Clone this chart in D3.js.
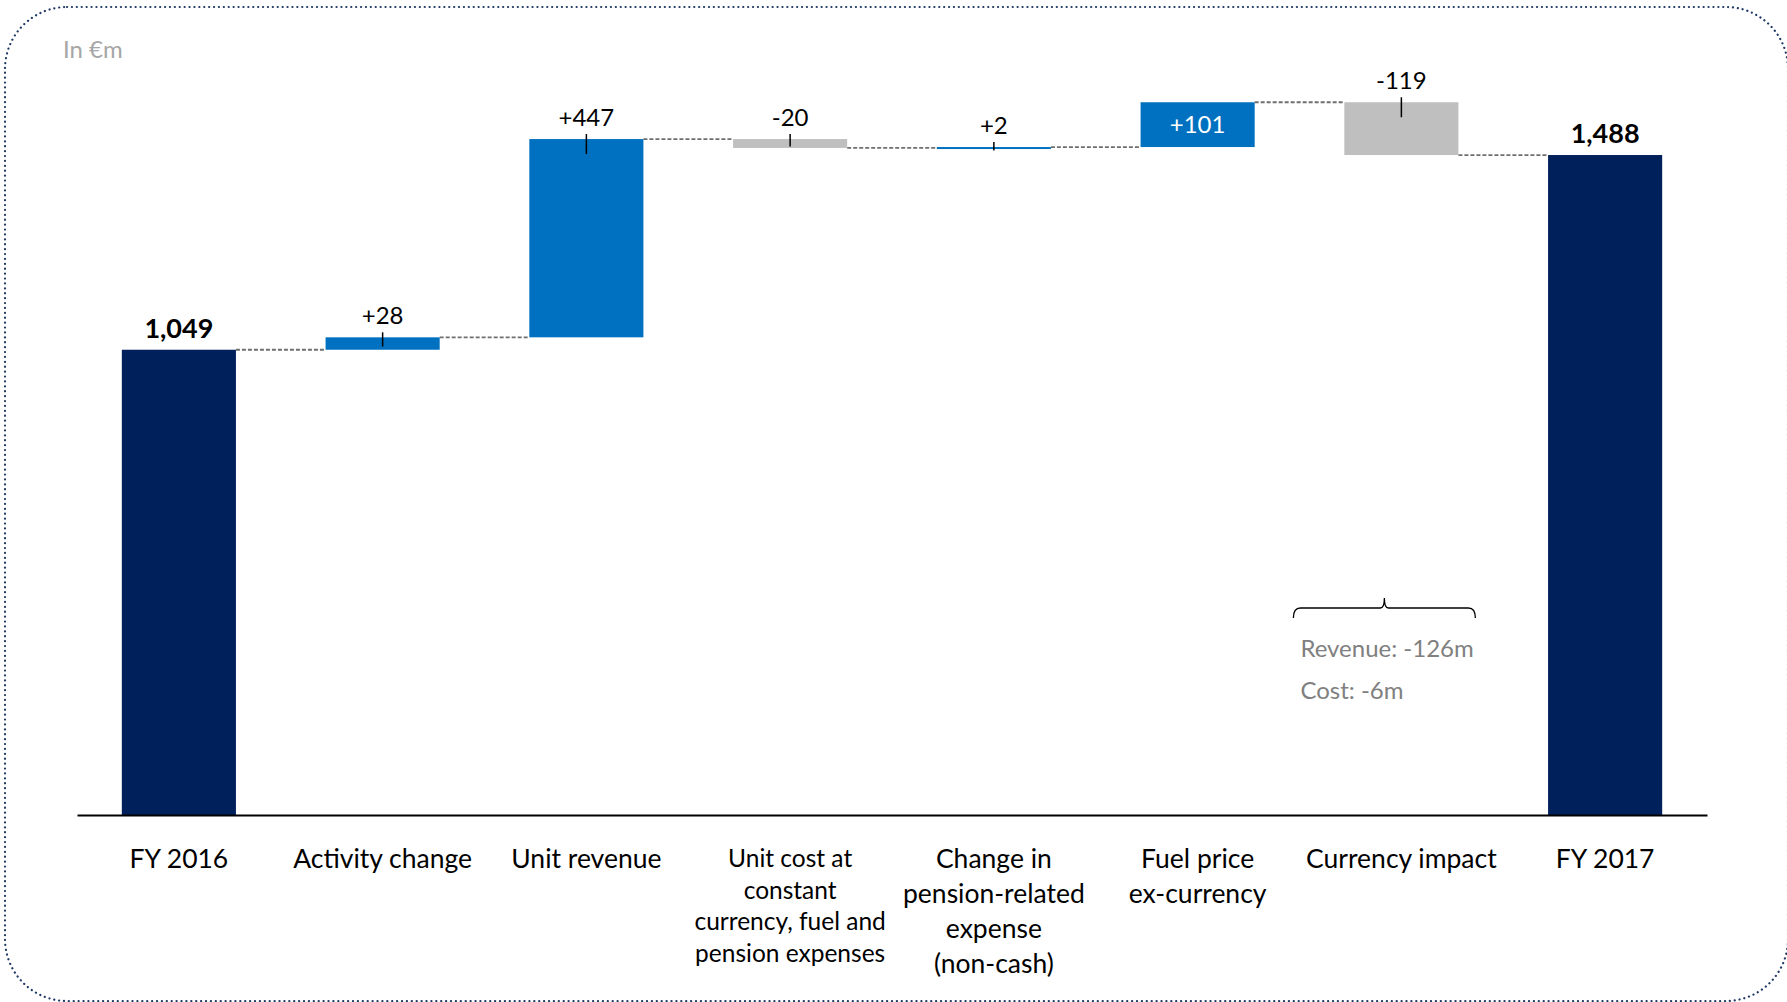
<!DOCTYPE html>
<html>
<head>
<meta charset="utf-8">
<script src="https://cdn.jsdelivr.net/npm/d3@7"></script>
<style>
  body { margin: 0; background: #fff; }
  svg text { font-family: "Lato", "Open Sans", sans-serif; }
</style>
</head>
<body>
<div id="chart"></div>
<script>
// data
var categories = ["FY 2016", "Activity change", "Unit revenue", "Unit cost", "Pension", "Fuel price", "Currency impact", "FY 2017"];
var catLines = [
  ["FY 2016"],
  ["Activity change"],
  ["Unit revenue"],
  ["Unit cost at", "constant", "currency, fuel and", "pension expenses"],
  ["Change in", "pension-related", "expense", "(non-cash)"],
  ["Fuel price", "ex-currency"],
  ["Currency impact"],
  ["FY 2017"]
];
var values = [1049, 28, 447, -20, 2, 101, -119, 1488];
var kinds = ["total", "delta", "delta", "delta", "delta", "delta", "delta", "total"];
var valueLabels = ["1,049", "+28", "+447", "-20", "+2", "+101", "-119", "1,488"];
var noteLines = ["Revenue: -126m", "Cost: -6m"];

var W = 1787, H = 1002;
var svg = d3.select("#chart").append("svg")
  .attr("width", W)
  .attr("height", H);

// dotted rounded frame
svg.append("rect")
  .attr("x", 5).attr("y", 7)
  .attr("width", 1783).attr("height", 994)
  .attr("rx", 62).attr("ry", 62)
  .attr("fill", "none")
  .attr("stroke", "#1F3864")
  .attr("stroke-width", 2.2)
  .attr("stroke-linecap", "round")
  .attr("stroke-dasharray", "0.1 4.8");

svg.append("text")
  .attr("x", 63).attr("y", 58)
  .attr("fill", "#A6A6A6")
  .style("font-size", "24px")
  .text("In €m");

var x = d3.scaleBand()
  .domain(categories)
  .range([77, 1707])
  .paddingInner(0.44)
  .paddingOuter(0.22);

var y = d3.scaleLinear()
  .domain([0, 1700])
  .range([815, 61]);

// build running bars
var bars = [];
var run = 0;
values.forEach(function(v, i) {
  var b = { cat: categories[i], kind: kinds[i], label: valueLabels[i], v: v };
  if (kinds[i] === "total") {
    b.y0 = 0; b.y1 = v; run = v;
  } else {
    b.y0 = run; b.y1 = run + v; run = run + v;
  }
  b.end = run;
  bars.push(b);
});

function color(d) {
  if (d.kind === "total") return "#00205B";
  return d.v >= 0 ? "#0070C0" : "#BFBFBF";
}

// connectors
svg.selectAll(".conn")
  .data(bars.slice(0, -1))
  .enter()
  .append("line")
    .attr("x1", function(d) { return x(d.cat) + x.bandwidth(); })
    .attr("x2", function(d, i) { return x(categories[i + 1]); })
    .attr("y1", function(d) { return y(d.end); })
    .attr("y2", function(d) { return y(d.end); })
    .attr("stroke", "#6F6F6F")
    .attr("stroke-width", 1.8)
    .attr("stroke-dasharray", "4,2");

svg.selectAll(".bar")
  .data(bars)
  .enter()
  .append("rect")
    .attr("x", function(d) { return x(d.cat); })
    .attr("width", x.bandwidth())
    .attr("y", function(d) { return y(Math.max(d.y0, d.y1)); })
    .attr("height", function(d) { return Math.max(2, Math.abs(y(d.y0) - y(d.y1))); })
    .attr("fill", color);

// x axis
var axis = svg.append("g")
  .attr("transform", "translate(0,815)")
  .call(d3.axisBottom(x).tickSize(0).tickSizeOuter(0));
axis.select(".domain").attr("stroke", "#000").attr("stroke-width", 2);
axis.selectAll(".tick text").remove();
axis.selectAll(".tick").each(function(c, i) {
  var lines = catLines[i];
  var small = i === 3;
  var fs = small ? 24.5 : 26.5;
  var lh = small ? 31.5 : 35;
  var t = d3.select(this).append("text")
    .attr("fill", "#000")
    .attr("text-anchor", "middle")
    .style("font-size", fs + "px");
  lines.forEach(function(l, k) {
    t.append("tspan").attr("x", 0).attr("y", (small ? 52 : 53) + k * lh).text(l);
  });
});

// value labels
bars.forEach(function(d) {
  var cx = x(d.cat) + x.bandwidth() / 2;
  var top = y(Math.max(d.y0, d.y1));
  var h = Math.abs(y(d.y0) - y(d.y1));
  if (d.kind === "total") {
    svg.append("text")
      .attr("x", cx).attr("y", top - 12)
      .attr("text-anchor", "middle")
      .style("font-size", "27px").style("font-weight", "bold")
      .text(d.label);
  } else if (d.v === 101) {
    svg.append("text")
      .attr("x", cx).attr("y", top + h / 2 + 8)
      .attr("text-anchor", "middle")
      .attr("fill", "#fff")
      .style("font-size", "24px")
      .text(d.label);
  } else {
    svg.append("line")
      .attr("x1", cx).attr("x2", cx)
      .attr("y1", top - 5).attr("y2", top + Math.min(15, h / 2 + 3))
      .attr("stroke", "#000").attr("stroke-width", 1.5);
    svg.append("text")
      .attr("x", cx).attr("y", top - 13)
      .attr("text-anchor", "middle")
      .style("font-size", "24px")
      .text(d.label);
  }
});

// bracket note under currency impact
var bx = x("Currency impact") + x.bandwidth() / 2 - 17;
svg.append("path")
  .attr("d", "M" + (bx - 91) + ",618 Q" + (bx - 91) + ",608 " + (bx - 84) + ",608 L" + (bx - 4) + ",608 Q" + bx + ",608 " + bx + ",598 Q" + bx + ",608 " + (bx + 4) + ",608 L" + (bx + 84) + ",608 Q" + (bx + 91) + ",608 " + (bx + 91) + ",618")
  .attr("fill", "none")
  .attr("stroke", "#000")
  .attr("stroke-width", 1.3);

noteLines.forEach(function(l, k) {
  svg.append("text")
    .attr("x", bx - 84).attr("y", 657 + k * 42)
    .attr("fill", "#808080")
    .style("font-size", "24px")
    .text(l);
});
</script>
</body>
</html>
